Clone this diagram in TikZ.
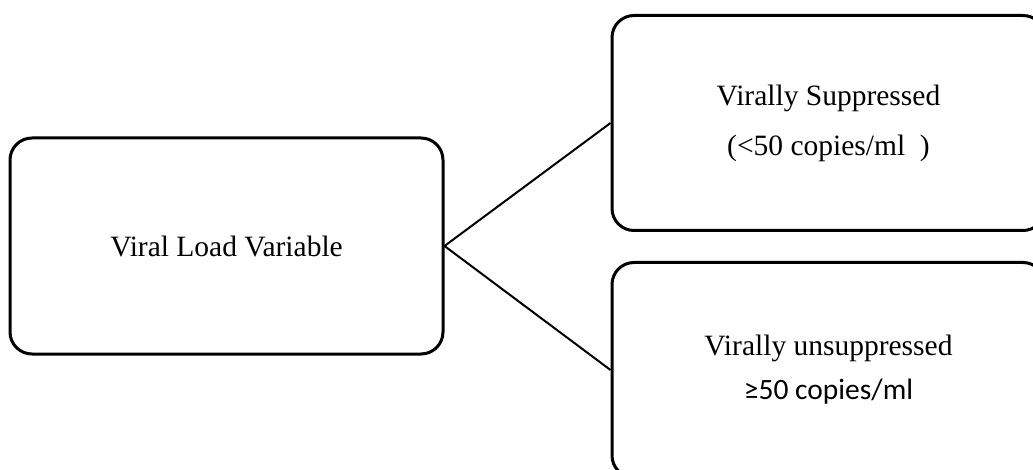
\documentclass[tikz,border=0pt]{standalone}
\usepackage{fontspec}
\setmainfont{Liberation Serif}
\newfontfamily\calibrifont{Carlito}
\usetikzlibrary{positioning}

\begin{document}
\begin{tikzpicture}[x=1pt,y=-1pt,
    vbox/.style={draw,line width=3pt,rounded corners=22pt,
      minimum width=433pt,minimum height=215pt,align=center,
      font=\fontsize{29.5}{50}\selectfont}]
  \useasboundingbox (0,0) rectangle (1033,470);
  \clip (0,0) rectangle (1033,470);

  \node[vbox,minimum height=216pt] (load) at (226.5,246) {Viral Load Variable};
  \node[vbox] (supp) at (828.5,123)
    {Virally Suppressed\\(<50 copies/ml\ \ )};
  \node[vbox,font=\fontsize{29.5}{44}\selectfont] (unsupp) at (828.5,370)
    {Virally unsuppressed\\{\calibrifont ≥50 copies/ml}};

  \draw[line width=2pt] (load.east) -- (supp.west);
  \draw[line width=2pt] (load.east) -- (unsupp.west);
\end{tikzpicture}
\end{document}
